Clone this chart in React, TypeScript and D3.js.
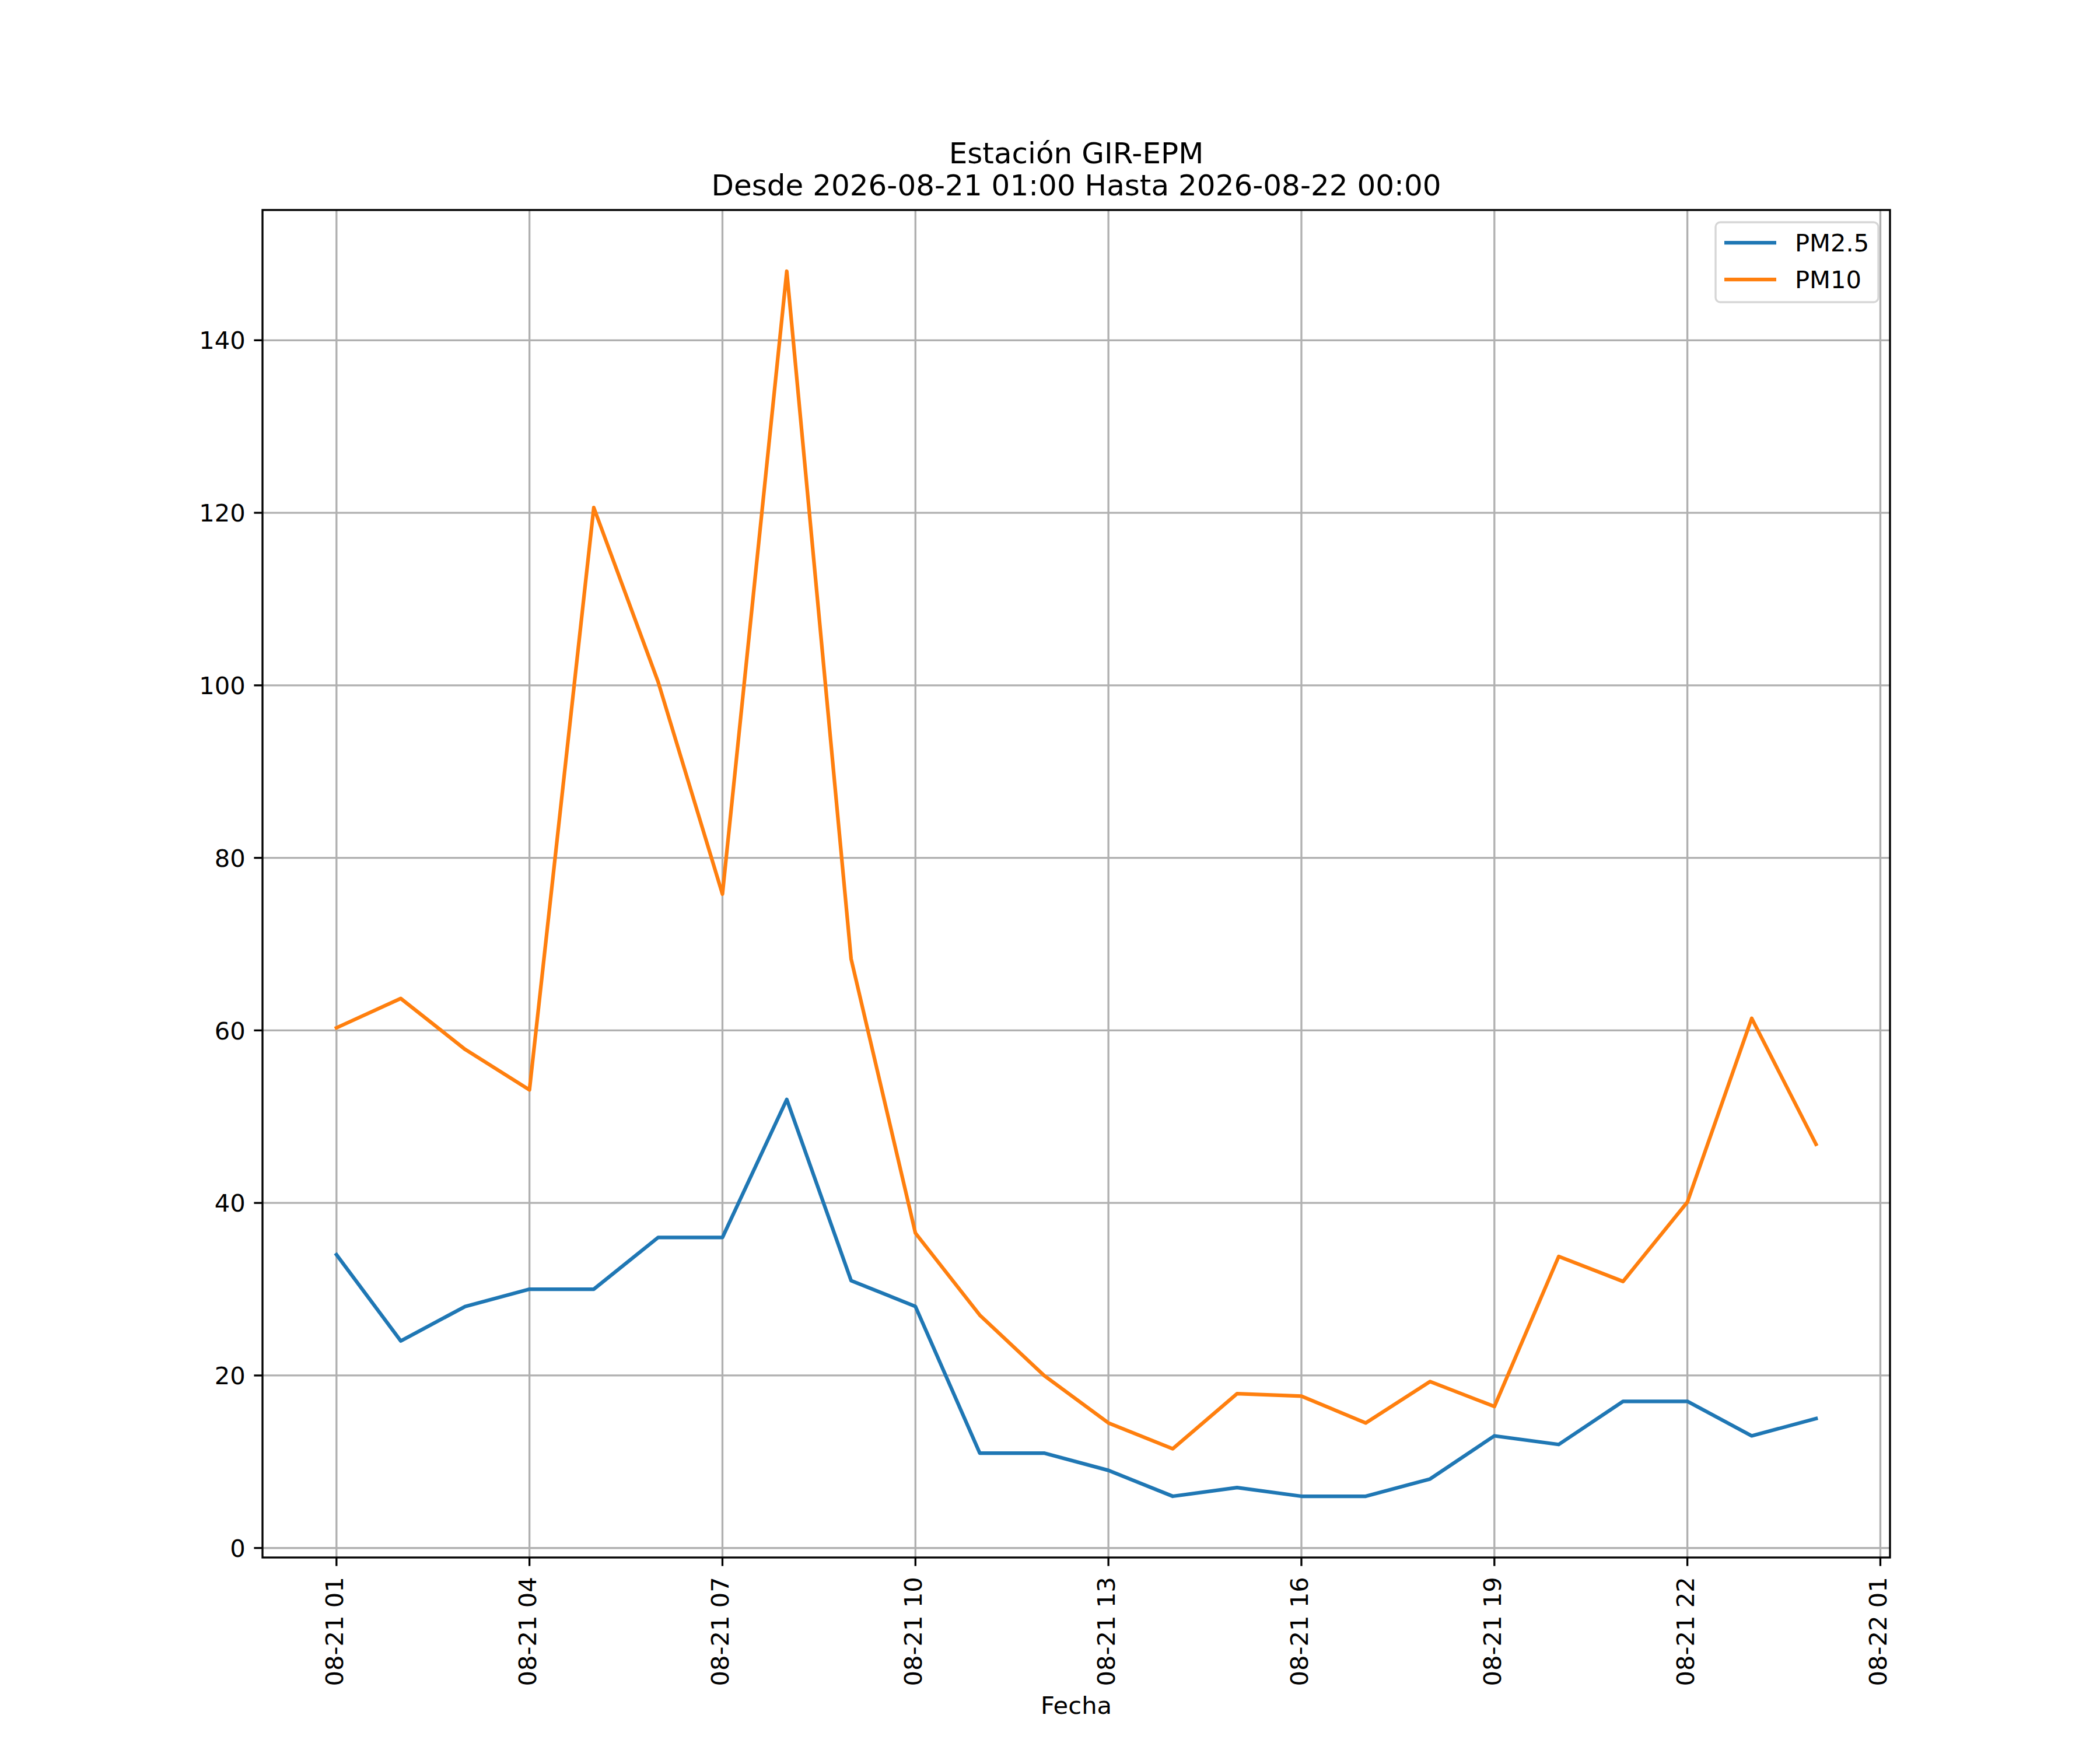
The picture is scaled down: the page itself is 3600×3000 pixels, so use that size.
import React, { useEffect, useRef } from 'react';
import * as d3 from 'd3';

// hourly readings, Estación GIR-EPM
const timestamps = [
  '2026-08-21 01:00', '2026-08-21 02:00', '2026-08-21 03:00', '2026-08-21 04:00',
  '2026-08-21 05:00', '2026-08-21 06:00', '2026-08-21 07:00', '2026-08-21 08:00',
  '2026-08-21 09:00', '2026-08-21 10:00', '2026-08-21 11:00', '2026-08-21 12:00',
  '2026-08-21 13:00', '2026-08-21 14:00', '2026-08-21 15:00', '2026-08-21 16:00',
  '2026-08-21 17:00', '2026-08-21 18:00', '2026-08-21 19:00', '2026-08-21 20:00',
  '2026-08-21 21:00', '2026-08-21 22:00', '2026-08-21 23:00', '2026-08-22 00:00',
];

const pm25 = [34, 24, 28, 30, 30, 36, 36, 52, 31, 28, 11, 11, 9, 6, 7, 6, 6, 8, 13, 12, 17, 17, 13, 15];

const pm10 = [
  60.3, 63.7, 57.8, 53.1, 120.6, 100.4, 75.8, 148.0, 68.3, 36.5, 27.0, 20.0,
  14.5, 11.5, 17.9, 17.6, 14.5, 19.3, 16.4, 33.8, 30.9, 40.1, 61.4, 46.8,
];

const yTicks = [0, 20, 40, 60, 80, 100, 120, 140];

const series = [
  { name: 'PM2.5', values: pm25, color: '#1f77b4' },
  { name: 'PM10', values: pm10, color: '#ff7f0e' },
];

const titleLines = ['Estación GIR-EPM', 'Desde 2026-08-21 01:00 Hasta 2026-08-22 00:00'];

const W = 3600;
const H = 3000;
const margin = { left: 450, right: 360, top: 360, bottom: 330 };
const FONT = 'DejaVu Sans';
const px = 300 / 72; // pt -> px at 300 dpi

const App: React.FC = () => {
  const svgRef = useRef<SVGSVGElement | null>(null);

  useEffect(() => {
    document.body.style.margin = '0';

    const parse = d3.timeParse('%Y-%m-%d %H:%M');
    const dates = timestamps.map((t) => parse(t) as Date);

    const svg = d3.select(svgRef.current).attr('width', W).attr('height', H);
    svg.selectAll('*').remove();

    const x0 = margin.left;
    const x1 = W - margin.right;
    const y0 = H - margin.bottom;
    const y1 = margin.top;

    const first = dates[0].getTime();
    const last = dates[dates.length - 1].getTime();
    const padX = (last - first) * 0.05;
    const x = d3.scaleTime().domain([new Date(first - padX), new Date(last + padX)]).range([x0, x1]);

    const all = pm25.concat(pm10);
    const lo = d3.min(all) as number;
    const hi = d3.max(all) as number;
    const padY = (hi - lo) * 0.05;
    const y = d3.scaleLinear().domain([lo - padY, hi + padY]).range([y0, y1]);

    svg.append('rect').attr('width', W).attr('height', H).attr('fill', 'white');

    // every 3 hours starting at the first reading
    const ticks = d3.timeHour.range(dates[0], new Date(last + 2 * 3600 * 1000)).filter((_, i) => i % 3 === 0);
    const fmt = d3.timeFormat('%m-%d %H');

    const grid = svg.append('g').attr('stroke', '#b0b0b0').attr('stroke-width', 0.8 * px);
    grid.selectAll('line.vx').data(ticks).enter().append('line')
      .attr('x1', (d) => x(d)).attr('x2', (d) => x(d)).attr('y1', y0).attr('y2', y1);
    grid.selectAll('line.hy').data(yTicks).enter().append('line')
      .attr('x1', x0).attr('x2', x1).attr('y1', (d) => y(d)).attr('y2', (d) => y(d));

    const line = d3.line<number>().x((_, i) => x(dates[i])).y((d) => y(d));
    svg.append('g').selectAll('path').data(series).enter().append('path')
      .attr('d', (s) => line(s.values))
      .attr('fill', 'none')
      .attr('stroke', (s) => s.color)
      .attr('stroke-width', 1.5 * px)
      .attr('stroke-linejoin', 'round')
      .attr('stroke-linecap', 'square');

    // frame
    svg.append('rect')
      .attr('x', x0).attr('y', y1).attr('width', x1 - x0).attr('height', y0 - y1)
      .attr('fill', 'none').attr('stroke', 'black').attr('stroke-width', 0.8 * px);

    const tickLen = 3.5 * px;
    const fs = 10 * px;

    const yAxis = svg.append('g').attr('font-family', FONT).attr('font-size', fs);
    yAxis.selectAll('line').data(yTicks).enter().append('line')
      .attr('x1', x0 - tickLen).attr('x2', x0).attr('y1', (d) => y(d)).attr('y2', (d) => y(d))
      .attr('stroke', 'black').attr('stroke-width', 0.8 * px);
    yAxis.selectAll('text').data(yTicks).enter().append('text')
      .attr('x', x0 - tickLen - 3.5 * px).attr('y', (d) => y(d) + fs * 0.3645)
      .attr('text-anchor', 'end').text((d) => d);

    const xAxis = svg.append('g').attr('font-family', FONT).attr('font-size', fs);
    xAxis.selectAll('line').data(ticks).enter().append('line')
      .attr('x1', (d) => x(d)).attr('x2', (d) => x(d)).attr('y1', y0).attr('y2', y0 + tickLen)
      .attr('stroke', 'black').attr('stroke-width', 0.8 * px);
    xAxis.selectAll('text').data(ticks).enter().append('text')
      .attr('transform', (d) => `translate(${x(d) + 11},${y0 + tickLen + 3.5 * px + 4}) rotate(-90)`)
      .attr('text-anchor', 'end').text((d) => fmt(d));

    svg.append('text')
      .attr('x', (x0 + x1) / 2).attr('y', 2938)
      .attr('text-anchor', 'middle').attr('font-family', FONT).attr('font-size', fs)
      .text('Fecha');

    svg.append('g').attr('font-family', FONT).attr('font-size', 12 * px).attr('text-anchor', 'middle')
      .selectAll('text').data(titleLines).enter().append('text')
      .attr('x', (x0 + x1) / 2).attr('y', (_, i) => 280 + i * 55)
      .text((d) => d);

    // legend
    const lg = svg.append('g').attr('font-family', FONT).attr('font-size', fs);
    lg.append('rect')
      .attr('x', 2941).attr('y', 381).attr('width', 279).attr('height', 137)
      .attr('rx', 8).attr('fill', 'white').attr('fill-opacity', 0.8)
      .attr('stroke', '#d6d6d6').attr('stroke-width', 0.8 * px);
    const items = lg.selectAll('g.item').data(series).enter().append('g')
      .attr('transform', (_, i) => `translate(0, ${416 + i * 63})`);
    items.append('line')
      .attr('x1', 2956).attr('x2', 3045).attr('y1', 0).attr('y2', 0)
      .attr('stroke', (s) => s.color).attr('stroke-width', 1.5 * px);
    items.append('text')
      .attr('x', 3077).attr('y', fs * 0.3645).text((s) => s.name);
  }, []);

  return <svg ref={svgRef} />;
};

export default App;
